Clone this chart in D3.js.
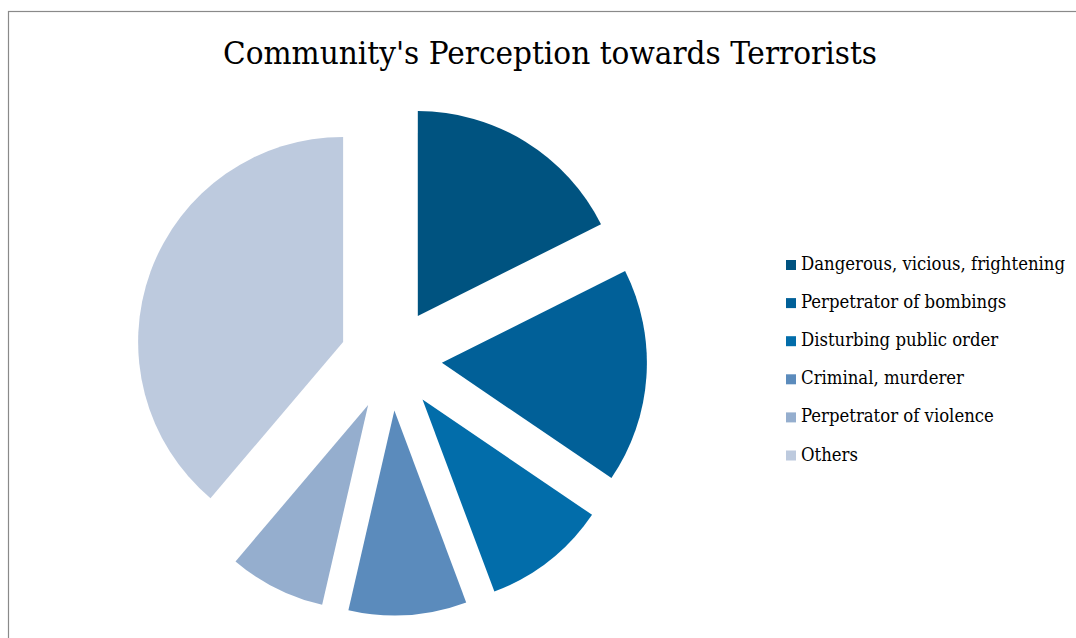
<!DOCTYPE html>
<html>
<head>
<meta charset="utf-8">
<script src="https://cdn.jsdelivr.net/npm/d3@7"></script>
<style>
  html, body { margin: 0; padding: 0; background: #ffffff; }
  svg { display: block; }
</style>
</head>
<body>
<svg id="chart" width="1076" height="638"></svg>
<script>
// Survey shares (percent of respondents)
const categories = [
  "Dangerous, vicious, frightening",
  "Perpetrator of bombings",
  "Disturbing public order",
  "Criminal, murderer",
  "Perpetrator of violence",
  "Others"
];
const shares = [17.6, 16.9, 9.8, 9.3, 7.6, 38.8];
const palette = ["#005380", "#016098", "#026DAA", "#5B8BBC", "#95AECE", "#BDCADE"];
const title = "Community's Perception towards Terrorists";

const svg = d3.select("#chart");
const W = 1076, H = 638;
const serif = "'DejaVu Serif Condensed', 'DejaVu Serif', 'Liberation Serif', serif";

// Chart-area frame (runs off the right and bottom edges)
svg.append("rect")
  .attr("x", 8.5).attr("y", 11.5)
  .attr("width", W + 20).attr("height", H + 20)
  .attr("fill", "#ffffff")
  .attr("stroke", "#8a8a8a")
  .attr("stroke-width", 1.2);

// Title
svg.append("text")
  .attr("x", 550).attr("y", 64)
  .attr("text-anchor", "middle")
  .attr("font-family", serif)
  .attr("font-size", 31)
  .attr("fill", "#000000")
  .attr("textLength", 654)
  .attr("lengthAdjust", "spacingAndGlyphs")
  .text(title);

// Exploded pie, first slice starting at 12 o'clock, clockwise
const cx = 391, cy = 359.5, radius = 205, explode = 51;
const pie = d3.pie().sort(null).value(d => d.value).startAngle(0).endAngle(2 * Math.PI);
const arc = d3.arc().innerRadius(0).outerRadius(radius);
const arcs = pie(categories.map((c, i) => ({ name: c, value: shares[i], color: palette[i] })));

const pieG = svg.append("g").attr("transform", `translate(${cx},${cy})`);
pieG.selectAll("path")
  .data(arcs)
  .join("path")
  .attr("d", arc)
  .attr("fill", d => d.data.color)
  .attr("transform", d => {
    const mid = (d.startAngle + d.endAngle) / 2;
    return `translate(${explode * Math.sin(mid)},${-explode * Math.cos(mid)})`;
  });

// Legend
const legendX = 786, legendY0 = 270, legendStep = 38.1, legendLongest = 264;
const legend = svg.append("g");
const rows = legend.selectAll("g")
  .data(arcs)
  .join("g")
  .attr("transform", (d, i) => `translate(${legendX},${legendY0 + i * legendStep})`);
rows.append("rect")
  .attr("x", 0).attr("y", -10)
  .attr("width", 10).attr("height", 10)
  .attr("fill", d => d.data.color);
const labels = rows.append("text")
  .attr("x", 15).attr("y", 0)
  .attr("font-family", serif)
  .attr("font-size", 18)
  .attr("fill", "#000000")
  .text(d => d.data.name);

// Scale all legend labels by one factor so the longest fits the legend width
const widths = labels.nodes().map(n => n.getComputedTextLength());
const k = legendLongest / d3.max(widths);
labels.each(function(d, i) {
  d3.select(this).attr("textLength", widths[i] * k).attr("lengthAdjust", "spacingAndGlyphs");
});
</script>
</body>
</html>
